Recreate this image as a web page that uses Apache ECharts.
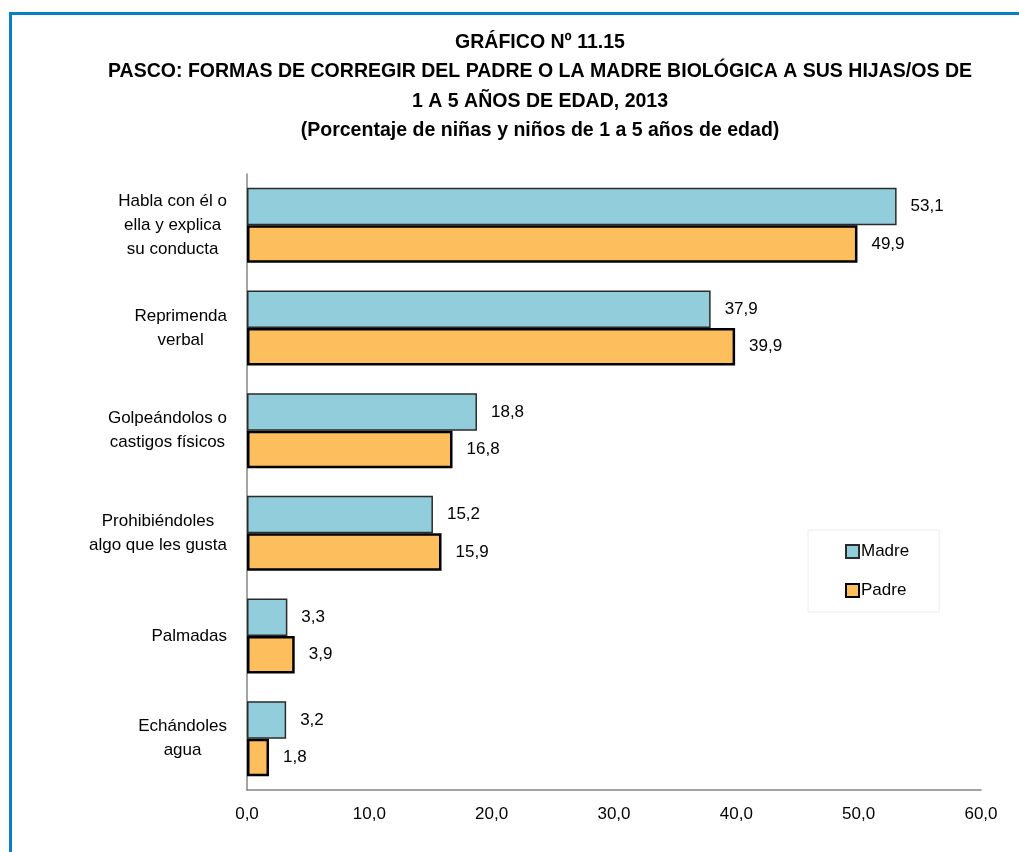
<!DOCTYPE html>
<html>
<head>
<meta charset="utf-8">
<script src="https://cdn.jsdelivr.net/npm/echarts@6/dist/echarts.min.js"></script>
<style>
  html, body { margin: 0; padding: 0; background: #fff; }
  #chart { width: 1019px; height: 852px; }
</style>
</head>
<body>
<div id="chart"></div>
<script>
// categorías (de arriba hacia abajo)
var categories = [
  'Habla con él o\nella y explica\nsu conducta',
  'Reprimenda\nverbal',
  'Golpeándolos o\ncastigos físicos',
  'Prohibiéndoles\nalgo que les gusta',
  'Palmadas',
  'Echándoles\nagua'
]
var madre = [53.1, 37.9, 18.8, 15.2, 3.3, 3.2]
var padre = [49.9, 39.9, 16.8, 15.9, 3.9, 1.8]
var xTicks = [0, 10, 20, 30, 40, 50, 60]

var titleLines = [
  'GRÁFICO Nº 11.15',
  'PASCO: FORMAS DE CORREGIR DEL PADRE O LA MADRE BIOLÓGICA A SUS HIJAS/OS DE',
  '1 A 5 AÑOS DE EDAD, 2013',
  '(Porcentaje de niñas y niños de 1 a 5 años de edad)'
]

var font = '"Liberation Sans", Arial, sans-serif'
var comma = function (v) {
  return Number(v).toFixed(1).replace('.', ',')
}

var myChart = echarts.init(document.getElementById('chart'))
var option = {
  backgroundColor: '#fff',
  animation: false,
  graphic: [
    {
      type: 'polyline',
      shape: { points: [[10.5, 852], [10.5, 13.5], [1019, 13.5]] },
      style: { stroke: '#0a80c0', lineWidth: 3, fill: null }
    },
    // título
    {
      type: 'text',
      x: 540,
      y: 27,
      scaleX: 0.93,
      style: {
        text: titleLines.join('\n'),
        textAlign: 'center',
        textVerticalAlign: 'top',
        fontFamily: font,
        fontWeight: 'bold',
        fontSize: 21,
        lineHeight: 29.5,
        fill: '#000'
      }
    }
  ],
  legend: {
    orient: 'vertical',
    left: 808,
    top: 530,
    padding: [13, 30, 13, 37],
    itemGap: 22,
    itemWidth: 13,
    itemHeight: 13,
    icon: 'rect',
    borderColor: '#ececec',
    borderWidth: 1,
    textStyle: { fontFamily: font, fontSize: 17, color: '#000', padding: [0, 0, 0, -3] },
    data: ['Madre', 'Padre']
  },
  grid: {
    left: 247,
    right: 38,
    top: 174,
    bottom: 62
  },
  xAxis: {
    type: 'value',
    min: 0,
    max: 60,
    interval: 10,
    axisLine: { show: true, lineStyle: { color: '#868686', width: 1.5 } },
    axisTick: { show: false },
    splitLine: { show: false },
    axisLabel: {
      margin: 16,
      fontFamily: font,
      fontSize: 17,
      color: '#000',
      formatter: function (v) {
        return xTicks.indexOf(v) > -1 ? comma(v) : ''
      }
    }
  },
  yAxis: {
    type: 'category',
    inverse: true,
    data: categories,
    axisLine: { show: true, lineStyle: { color: '#868686', width: 1.5 } },
    axisTick: { show: false },
    axisLabel: {
      margin: 20,
      align: 'right',
      formatter: function (v) {
        return '{c|' + v + '}'
      },
      rich: {
        c: {
          align: 'center',
          fontFamily: font,
          fontSize: 17,
          lineHeight: 24,
          color: '#000'
        }
      }
    }
  },
  series: [
    {
      name: 'Madre',
      type: 'bar',
      data: madre,
      barGap: 0,
      barCategoryGap: '27%',
      itemStyle: { color: '#92cddc', borderColor: '#2b2b2b', borderWidth: 1.5 },
      label: {
        show: true,
        position: 'right',
        distance: 14,
        fontFamily: font,
        fontSize: 17,
        color: '#000',
        formatter: function (p) { return comma(p.value) }
      }
    },
    {
      name: 'Padre',
      type: 'bar',
      data: padre,
      barGap: 0,
      barCategoryGap: '27%',
      itemStyle: { color: '#fdbf5d', borderColor: '#000', borderWidth: 2.5 },
      label: {
        show: true,
        position: 'right',
        distance: 14,
        fontFamily: font,
        fontSize: 17,
        color: '#000',
        formatter: function (p) { return comma(p.value) }
      }
    }
  ]
}
myChart.setOption(option)
</script>
</body>
</html>
